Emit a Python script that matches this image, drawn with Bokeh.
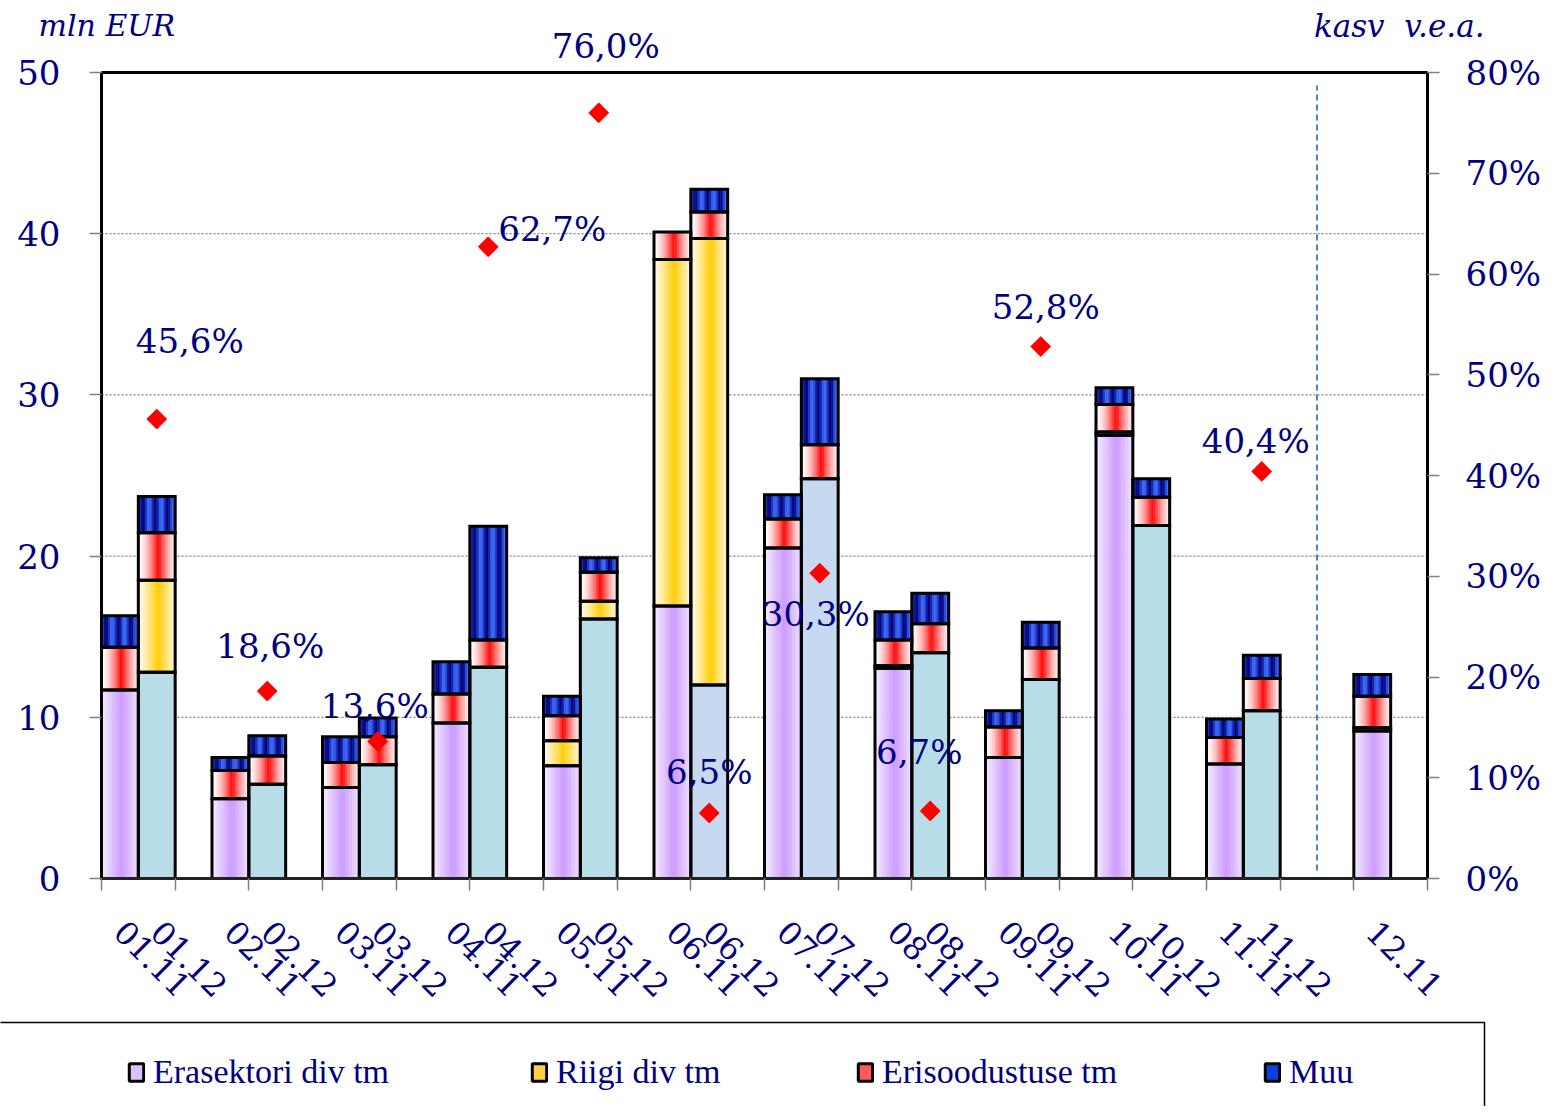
import math
from bokeh.plotting import figure
from bokeh.models import (Range1d, LinearAxis, FixedTicker, PrintfTickFormatter,
                          Label, Legend, LegendItem, BoxAnnotation, ColumnDataSource)
from bokeh.embed import file_html
from bokeh.resources import INLINE

# ---------------- data (mln EUR) ----------------
months = ["01", "02", "03", "04", "05", "06", "07", "08", "09", "10", "11", "12"]
eras_11 = [11.7, 4.95, 5.65, 9.65, 7.0, 16.9, 20.5, 13.05, 7.5, 27.5, 7.1, 9.15]
riigi_11 = [0.0, 0.0, 0.0, 0.0, 1.55, 21.5, 0.0, 0.15, 0.0, 0.2, 0.0, 0.2]
eris_11 = [2.65, 1.75, 1.55, 1.8, 1.55, 1.7, 1.8, 1.6, 1.9, 1.7, 1.65, 1.95]
muu_11 = [1.95, 0.8, 1.6, 2.0, 1.2, 0.0, 1.5, 1.75, 1.0, 1.05, 1.15, 1.35]

eras_12 = [12.8, 5.85, 7.05, 13.1, 16.1, 12.0, 24.8, 14.0, 12.35, 21.9, 10.4, None]
riigi_12 = [5.7, 0.0, 0.0, 0.0, 1.1, 27.7, 0.0, 0.0, 0.0, 0.0, 0.0, None]
eris_12 = [2.95, 1.75, 1.75, 1.7, 1.8, 1.65, 2.1, 1.8, 1.95, 1.75, 2.0, None]
muu_12 = [2.25, 1.25, 1.15, 7.05, 0.9, 1.4, 4.1, 1.9, 1.6, 1.15, 1.45, None]

growth = [45.6, 18.6, 13.6, 62.7, 76.0, 6.5, 30.3, 6.7, 52.8, None, 40.4, None]  # kasv v.e.a., %

series_names = ["Erasektori div tm", "Riigi div tm", "Erisoodustuse tm", "Muu"]
left_ticks = [0, 10, 20, 30, 40, 50]
right_ticks = [0, 10, 20, 30, 40, 50, 60, 70, 80]
grid_ticks = [10, 20, 30, 40]
YMAX, PMAX = 50, 80

# ---------------- styles / layout ----------------
NAVY = "#000080"
W, H = 1547, 1106
PL, PR, PT, PB = 101, 1427, 72, 878          # plot area in pixels
NX = 72                                       # x units (half slots), bar width 2
BW = 2.0
era12_fill = ["#B7DEE8", "#B7DEE8", "#B7DEE8", "#B7DEE8", "#B7DEE8", "#C6D9F0",
              "#C6D9F0", "#B7DEE8", "#B7DEE8", "#B7DEE8", "#B7DEE8", "#B7DEE8"]
lab_dx = [33, 3, -3, 64, 7, 0, -4, -11, 5, 0, -6, 0]
lab_dy = [78, 45, 35, 18, 67, 41, -41, 59, 40, 0, 30, 0]
leg_x = [127, 530, 856, 1263]
leg_cols = ["#D8C2FF", "#FFD040", "#FF5A5A", "#0A3FE0"]
FONT_NUM = "DejaVu Serif"
FONT_LEG = "Liberation Serif"

sx = (PR - PL) / NX
sy = (PB - PT) / YMAX


def dxp(px):
    return (px - PL) / sx


def dyp(py):
    return (PB - py) / sy


def hx(c):
    c = c.lstrip("#")
    return [int(c[i:i + 2], 16) for i in (0, 2, 4)]


def mix(c1, c2, f):
    a, b = hx(c1), hx(c2)
    return "#%02x%02x%02x" % tuple(int(round(a[i] + (b[i] - a[i]) * f)) for i in range(3))


def tri(t, c=0.55):
    return max(0.0, 1 - abs(t - c) / max(c, 1 - c))


def grad_color(kind, t):
    if kind == "purple":
        return mix("#F6F0FF", "#CC99FF", tri(t))
    if kind == "yellow":
        return mix("#FFFDF6", "#FFCC00", tri(t) ** 1.2)
    if kind == "red":
        return mix("#FFFFFF", "#FF0000", tri(t) ** 1.7)
    if kind == "blue":
        f = 0.5 - 0.5 * math.cos(2 * math.pi * 3 * t + 0.6)
        return mix("#3A6BFF", "#00007A", f)
    return kind


# ---------------- positions ----------------
x11, x12 = [], []
for i in range(len(months)):
    has12 = eras_12[i] is not None
    x11.append(6 * i + 1 if has12 else 6 * i + 3)
    x12.append(6 * i + 3 if has12 else None)

# ---------------- segments ----------------
N = 16
stripes = dict(x=[], w=[], b=[], t=[], c=[])
flat = dict(x=[], b=[], t=[], c=[])
outl = dict(x=[], b=[], t=[])


def add_bar(xc, vals, kinds):
    base = 0.0
    for v, k in zip(vals, kinds):
        if v is None or v <= 0:
            continue
        top = base + v
        if k.startswith("#"):
            flat["x"].append(xc); flat["b"].append(base); flat["t"].append(top); flat["c"].append(k)
        else:
            for s in range(N):
                tt = (s + 0.5) / N
                stripes["x"].append(xc - BW / 2 + tt * BW)
                stripes["w"].append(BW / N)
                stripes["b"].append(base)
                stripes["t"].append(top)
                stripes["c"].append(grad_color(k, tt))
        outl["x"].append(xc); outl["b"].append(base); outl["t"].append(top)
        base = top


for i in range(len(months)):
    add_bar(x11[i], [eras_11[i], riigi_11[i], eris_11[i], muu_11[i]],
            ["purple", "yellow", "red", "blue"])
    if x12[i] is not None:
        add_bar(x12[i], [eras_12[i], riigi_12[i], eris_12[i], muu_12[i]],
                [era12_fill[i], "yellow", "red", "blue"])

# ---------------- figure ----------------
p = figure(width=W, height=H,
           x_range=Range1d(dxp(0), dxp(W)), y_range=Range1d(dyp(H), dyp(0)),
           output_backend="svg", toolbar_location=None,
           x_axis_location=None, y_axis_location=None)
p.min_border_left = p.min_border_right = p.min_border_top = p.min_border_bottom = 0
p.background_fill_color = "white"
p.border_fill_color = "white"
p.outline_line_color = None
p.xgrid.visible = False
p.ygrid.visible = False
p.extra_y_ranges = {"pct": Range1d(dyp(H) * PMAX / YMAX, dyp(0) * PMAX / YMAX)}


def style_axis(ax):
    ax.axis_line_color = "black"
    ax.axis_line_width = 3
    ax.major_tick_line_color = "#808080"
    ax.major_tick_line_width = 1.5
    ax.major_tick_out = 12
    ax.major_tick_in = 0
    ax.minor_tick_line_color = None
    ax.major_label_text_font = FONT_NUM
    ax.major_label_text_font_size = "34px"
    ax.major_label_text_color = NAVY


ya = LinearAxis(ticker=FixedTicker(ticks=left_ticks), fixed_location=0, bounds=(0, YMAX))
style_axis(ya)
ya.major_label_standoff = 29
p.add_layout(ya, "left")

ra = LinearAxis(y_range_name="pct", ticker=FixedTicker(ticks=right_ticks),
                formatter=PrintfTickFormatter(format="%d%%"), fixed_location=NX, bounds=(0, PMAX))
style_axis(ra)
ra.major_label_standoff = 26
p.add_layout(ra, "right")

label_pos, label_txt = [], []
for i, m in enumerate(months):
    label_pos.append(x11[i]); label_txt.append(m + ".11")
    if x12[i] is not None:
        label_pos.append(x12[i]); label_txt.append(m + ".12")
xa = LinearAxis(ticker=FixedTicker(ticks=label_pos, minor_ticks=list(range(0, NX + 1, 4))),
                fixed_location=0, bounds=(0, NX))
style_axis(xa)
xa.major_label_overrides = {int(k): v for k, v in zip(label_pos, label_txt)}
xa.major_tick_line_color = None
xa.minor_tick_line_color = "#808080"
xa.minor_tick_line_width = 1.5
xa.minor_tick_out = 12
xa.minor_tick_in = 0
xa.axis_line_color = "#222222"
xa.major_label_orientation = -math.pi / 4
xa.major_label_standoff = 36
xa.major_label_text_font_size = "32px"
p.add_layout(xa, "below")

# grid lines and top border
p.segment(x0=[0] * len(grid_ticks), x1=[NX] * len(grid_ticks), y0=grid_ticks, y1=grid_ticks,
          line_color="#808080", line_dash="2 2", line_width=1.2)
p.segment(x0=[0], x1=[NX], y0=[YMAX], y1=[YMAX], line_color="black", line_width=3)

# bars
p.vbar(x="x", width="w", bottom="b", top="t", fill_color="c", line_color="c", line_width=0.6,
       source=ColumnDataSource(stripes))
p.vbar(x="x", width=BW, bottom="b", top="t", fill_color="c", line_color=None,
       source=ColumnDataSource(flat))
p.vbar(x="x", width=BW, bottom="b", top="t", fill_color=None, line_color="black", line_width=3,
       line_join="miter", source=ColumnDataSource(outl))

# dashed separator before month 12
p.segment(x0=[66], x1=[66], y0=[0.5], y1=[49.2], line_color="#4F81BD", line_dash="6 4",
          line_width=2)

# growth diamonds and labels
gx, gy = [], []
for i, g in enumerate(growth):
    if g is None:
        continue
    xg = x12[i] if x12[i] is not None else x11[i]
    gx.append(xg); gy.append(g)
    p.add_layout(Label(x=xg, y=g, y_range_name="pct", text=("%.1f%%" % g).replace(".", ","),
                       x_offset=lab_dx[i], y_offset=lab_dy[i], text_align="center",
                       text_baseline="middle", text_font=FONT_NUM, text_font_size="34px",
                       text_color=NAVY))
p.scatter(x=gx, y=gy, y_range_name="pct", marker="square", angle=math.pi / 4, size=14,
          fill_color="#FF0000", line_color="#FF0000")

# axis titles
p.add_layout(Label(x=dxp(38), y=dyp(25), text="mln EUR", text_font=FONT_NUM,
                   text_font_style="italic", text_font_size="30px", text_color=NAVY,
                   text_baseline="middle", text_align="left"))
p.add_layout(Label(x=dxp(1484), y=dyp(25), text="kasv\u00a0\u00a0v.e.a.", text_font=FONT_NUM,
                   text_font_style="italic", text_font_size="31px", text_color=NAVY,
                   text_baseline="middle", text_align="right"))

# legend box
p.add_layout(BoxAnnotation(left=dxp(-10), right=dxp(1484), top=dyp(1022), bottom=dyp(1200),
                           fill_alpha=0, line_color="black", line_alpha=1, line_width=1.5))

# legends (swatch renderers hold no visible point)
for name, col, lx in zip(series_names, leg_cols, leg_x):
    r = p.vbar(x=[float("nan")], top=[float("nan")], width=1, fill_color=col,
               line_color="black", line_width=3)
    lg = Legend(items=[LegendItem(label=name, renderers=[r])], location=(lx, H - 1091),
                padding=0, margin=0, glyph_width=18, glyph_height=22, label_standoff=8,
                label_height=22, label_text_font=FONT_LEG, label_text_font_size="34px",
                label_text_color=NAVY, border_line_alpha=0, background_fill_alpha=0)
    p.add_layout(lg)

open("out.html", "w").write(file_html(p, INLINE))
